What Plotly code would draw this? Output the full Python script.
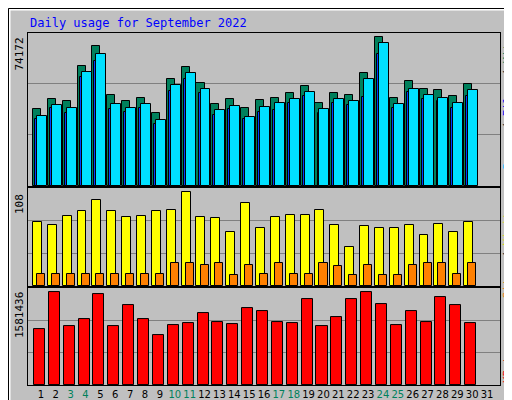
import plotly.graph_objects as go
from plotly.subplots import make_subplots

days = list(range(1, 32))
weekend_days = [3, 4, 10, 11, 17, 18, 24, 25]

hits = [38090, 43100, 42100, 59640, 69660, 45100, 42100, 43600, 36090, 53120,
        59140, 51120, 40600, 43100, 38590, 42600, 43600, 46110, 49620, 41100,
        46110, 45100, 56130, 74172, 43600, 52120, 48110, 47610, 44600, 50620]
files = [33570, 38580, 36570, 54110, 62120, 38080, 37070, 38580, 31060, 47090,
         53110, 46090, 35570, 38080, 33570, 37070, 37580, 41080, 44590, 36570,
         41080, 40080, 44090, 65630, 38580, 46590, 43090, 42080, 38580, 44590]
pages = [35070, 40080, 38580, 56610, 65630, 40580, 38580, 40580, 33070, 50100,
         56110, 48100, 37580, 39580, 34570, 39080, 41080, 43090, 46590, 38080,
         43090, 42080, 53110, 71140, 40580, 48100, 45090, 43590, 41080, 47600]
visits = [74, 70, 80, 86, 99, 86, 79, 80, 86, 87, 108, 79, 78, 62, 95,
          67, 79, 81, 81, 87, 70, 45, 69, 67, 67, 70, 58, 71, 62, 73]
sites = [14, 14, 14, 14, 14, 14, 14, 14, 14, 26, 26, 24, 26, 13, 24,
         14, 26, 14, 14, 26, 23, 13, 24, 13, 13, 24, 26, 26, 14, 26]
kbytes = [945000, 1581436, 997000, 1117000, 1547000, 997000, 1358000, 1117000,
          842000, 1014000, 1049000, 1220000, 1066000, 1031000, 1306000, 1255000,
          1066000, 1049000, 1461000, 997000, 1152000, 1461000, 1581000, 1375000,
          1014000, 1255000, 1066000, 1496000, 1358000, 1049000]

x = days[:30]
W, H = 512, 400
L, R, T, B = 20, 20, 25, 23
PW, PH = W - L - R, H - T - B


def px(v):
    return (v - L) / PW


def py(v):
    return (H - B - v) / PH


fig = make_subplots(rows=3, cols=1, shared_xaxes=True, vertical_spacing=0.006,
                    row_heights=[153, 98, 97])

line = dict(color='black', width=1)
fig.add_trace(go.Bar(x=x, y=hits, marker=dict(color='#00805c', line=line),
                     offset=-0.54, width=0.54), 1, 1)
fig.add_trace(go.Bar(x=x, y=files, marker=dict(color='#0040ff', line=line),
                     offset=-0.4, width=0.3), 1, 1)
fig.add_trace(go.Bar(x=x, y=pages, marker=dict(color='#00e0ff', line=line),
                     offset=-0.27, width=0.67), 1, 1)
fig.add_trace(go.Bar(x=x, y=visits, marker=dict(color='#ffff00', line=line),
                     offset=-0.54, width=0.6), 2, 1)
fig.add_trace(go.Bar(x=x, y=sites, marker=dict(color='#ff8000', line=line),
                     offset=-0.27, width=0.54), 2, 1)
fig.add_trace(go.Bar(x=x, y=kbytes, marker=dict(color='#ff0000', line=line),
                     offset=-0.47, width=0.74), 3, 1)

ranges = [76177, 112.6, 1650194]
for i, top in enumerate(ranges, start=1):
    fig.update_yaxes(range=[0, top], tickvals=[top / 3, 2 * top / 3],
                     showticklabels=False, ticks='', showgrid=True,
                     gridcolor='#808080', gridwidth=1, zeroline=False,
                     automargin=False,
                     showline=True, linecolor='black', mirror=True, row=i, col=1)

ticktext = [f"<span style='color:#00805c'>{d}</span>" if d in weekend_days else str(d)
            for d in days]
fig.update_xaxes(range=[0.13, 31.87], showgrid=False, zeroline=False,
                 showline=True, linecolor='black', mirror=True, ticks='',
                 automargin=False, tickangle=0,
                 tickvals=days, ticktext=ticktext)
fig.update_xaxes(showticklabels=True, row=3, col=1,
                 tickfont=dict(family='DejaVu Sans', size=10, color='black'))

mono = 'DejaVu Sans Mono'
ann = [
    dict(text='Daily usage for September 2022', x=px(20), y=py(15), xanchor='left',
         yanchor='middle', font=dict(family=mono, size=12, color='#0000ff')),
    dict(text='74172', x=px(11), y=py(28), textangle=-90, yanchor='top'),
    dict(text='108', x=px(11), y=py(184), textangle=-90, yanchor='top'),
    dict(text='1581436', x=px(11), y=py(282), textangle=-90, yanchor='top'),
    dict(text="<span style='color:#00c0ff'>Pages</span> / "
              "<span style='color:#0000ff'>Files</span> / "
              "<span style='color:#00805c'>Hits</span>",
         x=px(499), y=py(27), textangle=-90, yanchor='top'),
    dict(text="<span style='color:#ff8000'>Sites</span> / "
              "<span style='color:#e0e000'>Visits</span>",
         x=px(499), y=py(196), textangle=-90, yanchor='top'),
    dict(text="<span style='color:#ff0000'>KBytes</span>",
         x=px(499), y=py(377), textangle=-90, yanchor='bottom'),
]
for a in ann:
    a.setdefault('font', dict(family=mono, size=11, color='black'))
    a.update(xref='paper', yref='paper', showarrow=False)
    if 'xanchor' not in a:
        a['xanchor'] = 'center'

shapes = [
    dict(type='rect', x0=px(505), x1=px(512), y0=py(0), y1=py(400),
         fillcolor='#808080', line_width=0),
    dict(type='rect', x0=px(0), x1=px(512), y0=py(394), y1=py(400),
         fillcolor='#808080', line_width=0),
    dict(type='line', x0=px(1), x1=px(505), y0=py(1.5), y1=py(1.5),
         line=dict(color='white', width=2)),
    dict(type='line', x0=px(1.5), x1=px(1.5), y0=py(1), y1=py(394),
         line=dict(color='white', width=2)),
    dict(type='rect', x0=px(0.5), x1=px(511.5), y0=py(0.5), y1=py(399.5),
         line=dict(color='black', width=1)),
]
for s in shapes:
    s.update(xref='paper', yref='paper', layer='below' if s['type'] == 'rect' and 'fillcolor' in s else 'above')

fig.update_layout(width=W, height=H, margin=dict(l=L, r=R, t=T, b=B, autoexpand=False),
                  paper_bgcolor='#c0c0c0', plot_bgcolor='#c0c0c0',
                  barmode='overlay', showlegend=False, bargap=0,
                  annotations=ann, shapes=shapes)

fig.write_html("out.html", config={'displayModeBar': False})
